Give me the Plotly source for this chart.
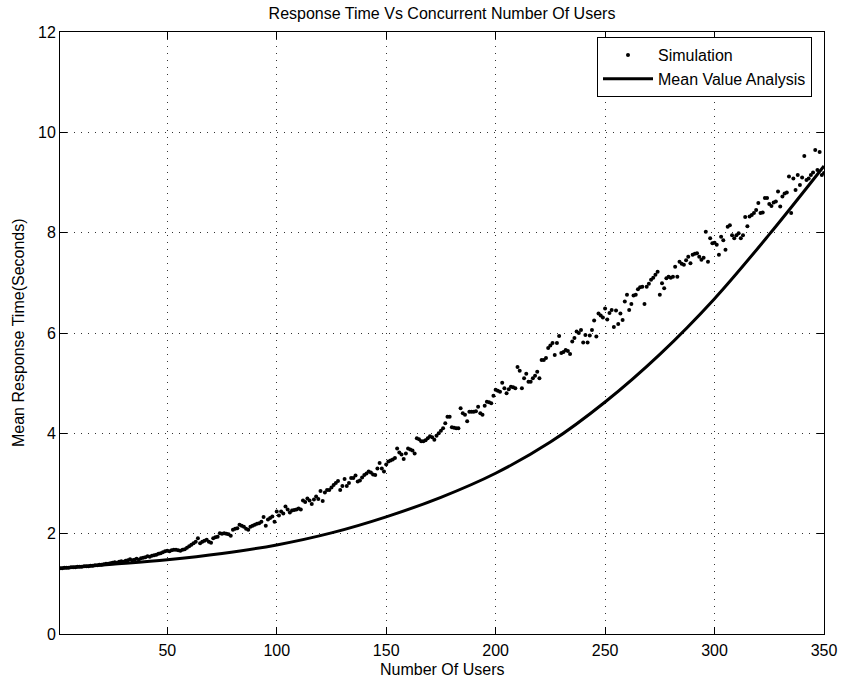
import plotly.graph_objects as go

# Simulation: one mean response time per number of users
sim_users = list(range(1, 351))
sim_time = [
    1.31, 1.31, 1.32, 1.32, 1.32, 1.33, 1.33, 1.33, 1.34, 1.34,
    1.34, 1.35, 1.35, 1.35, 1.36, 1.36, 1.37, 1.37, 1.38, 1.38,
    1.39, 1.40, 1.40, 1.41, 1.42, 1.43, 1.42, 1.44, 1.45, 1.44,
    1.46, 1.47, 1.49, 1.47, 1.48, 1.50, 1.48, 1.51, 1.52, 1.53,
    1.55, 1.54, 1.56, 1.57, 1.58, 1.60, 1.61, 1.63, 1.65, 1.66,
    1.65, 1.67, 1.68, 1.68, 1.67, 1.66, 1.68, 1.69, 1.72, 1.75,
    1.78, 1.81, 1.84, 1.91, 1.81, 1.84, 1.86, 1.88, 1.84, 1.82,
    1.91, 1.93, 1.94, 2.01, 2.00, 2.01, 2.00, 1.99, 1.96, 2.08,
    2.10, 2.11, 2.18, 2.16, 2.14, 2.10, 2.08, 2.14, 2.16, 2.18,
    2.20, 2.21, 2.24, 2.33, 2.16, 2.28, 2.31, 2.34, 2.24, 2.44,
    2.36, 2.44, 2.40, 2.54, 2.48, 2.42, 2.46, 2.47, 2.48, 2.50,
    2.48, 2.66, 2.63, 2.70, 2.66, 2.59, 2.68, 2.74, 2.69, 2.85,
    2.65, 2.82, 2.87, 2.87, 2.92, 2.97, 3.01, 3.05, 2.87, 2.95,
    3.09, 2.95, 3.01, 3.11, 3.11, 3.16, 3.04, 3.06, 3.12, 3.17,
    3.20, 3.24, 3.22, 3.18, 3.17, 3.30, 3.41, 3.30, 3.24, 3.38,
    3.44, 3.46, 3.48, 3.51, 3.70, 3.62, 3.58, 3.49, 3.60, 3.70,
    3.68, 3.66, 3.60, 3.90, 3.88, 3.84, 3.84, 3.86, 3.90, 3.94,
    3.92, 3.87, 3.95, 4.00, 4.05, 4.10, 4.20, 4.33, 4.33, 4.12,
    4.11, 4.10, 4.10, 4.50, 4.40, 4.37, 4.24, 4.43, 4.43, 4.43,
    4.44, 4.53, 4.40, 4.37, 4.55, 4.63, 4.62, 4.60, 4.75, 4.87,
    4.85, 4.83, 5.01, 4.90, 4.80, 4.88, 4.93, 4.92, 4.90, 5.32,
    5.25, 4.90, 5.10, 5.19, 5.03, 5.03, 5.10, 5.15, 5.23, 5.10,
    5.46, 5.46, 5.50, 5.70, 5.75, 5.80, 5.56, 5.80, 5.94, 5.60,
    5.62, 5.66, 5.64, 5.58, 5.83, 5.90, 6.03, 6.00, 6.06, 5.81,
    5.96, 5.81, 5.95, 6.06, 6.25, 5.93, 6.39, 6.35, 6.31, 6.49,
    6.27, 6.40, 6.46, 6.12, 6.45, 6.18, 6.39, 6.26, 6.63, 6.76,
    6.46, 6.58, 6.75, 6.76, 6.87, 6.91, 6.92, 6.58, 6.92, 6.98,
    7.06, 7.10, 7.16, 7.22, 6.76, 6.99, 6.89, 7.09, 7.12, 7.10,
    7.12, 7.32, 7.12, 7.42, 7.38, 7.36, 7.45, 7.52, 7.39, 7.56,
    7.58, 7.59, 7.52, 7.46, 7.50, 8.02, 7.42, 7.89, 7.79, 7.80,
    7.76, 7.56, 7.92, 7.85, 7.66, 8.12, 8.15, 7.95, 7.89, 7.95,
    7.99, 7.89, 7.95, 8.31, 8.13, 8.32, 8.35, 8.39, 8.45, 8.59,
    8.39, 8.40, 8.69, 8.69, 8.57, 8.53, 8.60, 8.62, 8.82, 8.52,
    8.72, 8.78, 8.80, 9.12, 8.39, 9.08, 8.85, 9.15, 8.95, 9.10,
    9.53, 9.05, 9.08, 9.15, 9.20, 9.65, 9.25, 9.61, 9.15, 9.19,
]

# Mean Value Analysis curve
mva_users = [1, 25, 50, 75, 100, 125, 150, 175, 200, 225, 250, 275, 300, 325, 350]
mva_time = [1.31, 1.39, 1.48, 1.605, 1.775, 2.015, 2.335, 2.725, 3.205, 3.825, 4.625, 5.575, 6.685, 7.965, 9.33]

x_ticks = [50, 100, 150, 200, 250, 300, 350]
y_ticks = [0, 2, 4, 6, 8, 10, 12]

FONT = "Liberation Sans, Arial, Helvetica, sans-serif"

W, H = 843, 685
L, R, T, B = 60, 19, 32, 51
PW, PH = W - L - R, H - T - B

fig = go.Figure()
fig.add_trace(go.Scatter(
    x=sim_users, y=sim_time, mode="markers", name="Simulation",
    marker=dict(color="black", size=4),
))
fig.add_trace(go.Scatter(
    x=mva_users, y=mva_time, mode="lines", name="Mean Value Analysis",
    line=dict(color="black", width=3, shape="spline", smoothing=1.0),
))

axis_common = dict(
    showline=True, linecolor="black", linewidth=1, mirror="ticks",
    ticks="inside", ticklen=7, tickcolor="black", tickwidth=1,
    showgrid=True, gridcolor="#333333", griddash="1px,6px", gridwidth=1,
    zeroline=False, tickfont=dict(family=FONT, size=16, color="black"),
    ticklabeloverflow="allow", automargin=False,
)

fig.update_layout(
    width=W, height=H,
    margin=dict(l=L, r=R, t=T, b=B, autoexpand=False),
    paper_bgcolor="white", plot_bgcolor="white",
    font=dict(family=FONT, size=16, color="black"),
    title=dict(text="Response Time Vs Concurrent Number Of Users",
               x=(L + PW / 2) / W, xanchor="center",
               y=1 - 13 / H, yanchor="middle", yref="container",
               font=dict(family=FONT, size=16, color="black")),
    xaxis=dict(range=[1, 350], tickvals=x_ticks, ticklabelstandoff=2, **axis_common),
    yaxis=dict(range=[0, 12], tickvals=y_ticks, **axis_common),
    showlegend=True,
    legend=dict(x=(812 - L) / PW, y=(602 - 5) / PH, xanchor="right", yanchor="top",
                bgcolor="white", bordercolor="black", borderwidth=1,
                font=dict(family=FONT, size=16, color="black"),
                tracegroupgap=0, itemwidth=50),
    annotations=[
        dict(text="Number Of Users", xref="paper", yref="paper",
             x=0.5, y=-35 / PH, xanchor="center", yanchor="middle",
             showarrow=False, font=dict(family=FONT, size=16, color="black")),
        dict(text="Mean Response Time(Seconds)", xref="paper", yref="paper",
             x=-42 / PW, y=0.5, xanchor="center", yanchor="middle", textangle=-90,
             showarrow=False, font=dict(family=FONT, size=16, color="black")),
    ],
)

fig.write_html("out.html",
               config={"displayModeBar": False},
               post_script="document.body.style.margin='0';document.body.style.overflow='hidden';")
